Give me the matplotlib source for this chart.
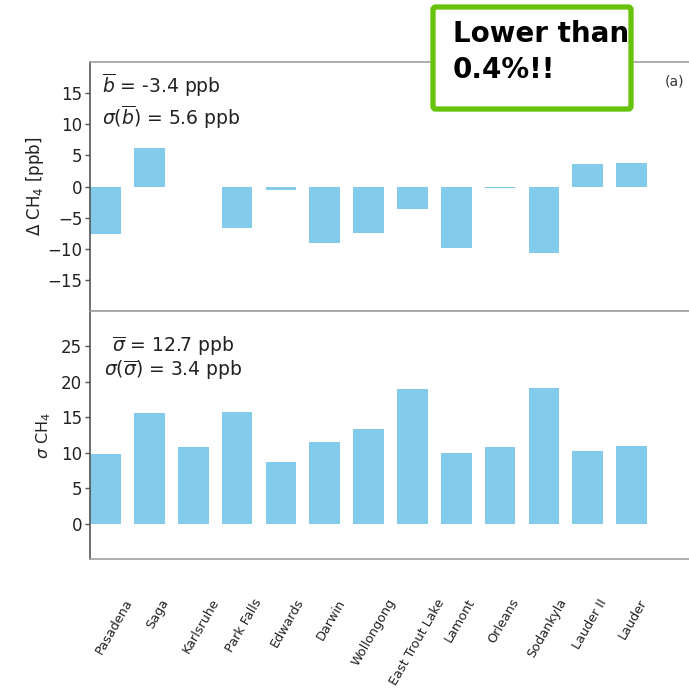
import matplotlib
matplotlib.use("Agg")
import matplotlib.pyplot as plt
from matplotlib.patches import FancyBboxPatch
import numpy as np

# TCCON sites and CH4 comparison statistics
sites = ["Pasadena", "Saga", "Karlsruhe", "Park Falls", "Edwards", "Darwin",
         "Wollongong", "East Trout Lake", "Lamont", "Orleans", "Sodankyla",
         "Lauder II", "Lauder"]
bias = [-7.7, 6.15, 0.0, -6.6, -0.5, -9.1, -7.5, -3.6, -9.9, -0.2, -10.7, 3.65, 3.85]
scatter = [9.85, 15.6, 10.8, 15.8, 8.7, 11.45, 13.3, 19.0, 10.0, 10.85, 19.15, 10.3, 10.9]

bias_ticks = [-15, -10, -5, 0, 5, 10, 15]
scatter_ticks = [0, 5, 10, 15, 20, 25]

bar_color = "#82cbeb"
spine_gray = "#a0a0a0"
left_gray = "#555555"
text_color = "#222222"

fig = plt.figure(figsize=(6.89, 6.91), dpi=100)
left = 90 / 689
ax1 = fig.add_axes([left, 1 - 311 / 691, 1.0 - left, (311 - 62) / 691])
ax2 = fig.add_axes([left, 1 - 559 / 691, 1.0 - left, (559 - 311) / 691])

x = np.arange(len(sites))
width = 0.7
xlim = (-0.354, 13.31)

for ax in (ax1, ax2):
    ax.set_xlim(*xlim)
    for side in ("top", "bottom"):
        ax.spines[side].set_color(spine_gray)
        ax.spines[side].set_linewidth(1.2)
    ax.spines["right"].set_visible(False)
    ax.spines["left"].set_color(left_gray)
    ax.spines["left"].set_linewidth(1.2)
    ax.tick_params(axis="y", direction="out", length=3.5, width=1,
                   color=left_gray, labelsize=12, labelcolor=text_color, pad=2)
    ax.tick_params(axis="x", bottom=False, labelbottom=False)

# Panel (a): mean bias per site
ax1.bar(x, bias, width=width, color=bar_color)
ax1.set_ylim(-20, 20)
ax1.set_yticks(bias_ticks)
ax1.set_yticklabels([str(t).replace("-", "\u2212") for t in bias_ticks])
ax1.set_ylabel(r"$\Delta$ CH$_4$ [ppb]", fontsize=12, color=text_color, labelpad=1)
ax1.text(0.02, 0.905, r"$\overline{b}$ = -3.4 ppb", transform=ax1.transAxes,
         fontsize=13.5, color=text_color, va="center", ha="left")
ax1.text(0.02, 0.78, r"$\sigma(\overline{b})$ = 5.6 ppb", transform=ax1.transAxes,
         fontsize=13.5, color=text_color, va="center", ha="left")
ax1.text(0.975, 0.92, "(a)", transform=ax1.transAxes, fontsize=10,
         color="#333333", va="center", ha="center")

# Panel (b): station-to-station scatter
ax2.bar(x, scatter, width=width, color=bar_color)
ax2.set_ylim(-5, 30)
ax2.set_yticks(scatter_ticks)
ax2.set_ylabel(r"$\sigma$ CH$_4$", fontsize=11.5, color=text_color, labelpad=6)
ax2.text(0.037, 0.86, r"$\overline{\sigma}$ = 12.7 ppb", transform=ax2.transAxes,
         fontsize=13.5, color=text_color, va="center", ha="left")
ax2.text(0.024, 0.76, r"$\sigma(\overline{\sigma})$ = 3.4 ppb", transform=ax2.transAxes,
         fontsize=13.5, color=text_color, va="center", ha="left")

# Site names on a slightly rescaled secondary axis below panel (b)
bar_step, label_step, label_offset = 43.83, 43.2, 9.0
secax = ax2.secondary_xaxis(
    "bottom",
    functions=(lambda v: (bar_step * v - label_offset) / label_step,
               lambda v: (label_step * v + label_offset) / bar_step))
secax.spines["bottom"].set_visible(False)
secax.set_xticks(x)
secax.set_xticklabels(sites, rotation=60, ha="center",
                      fontsize=9.2, color=text_color)
secax.tick_params(axis="x", length=0, pad=27)

# Highlight box above panel (a)
W, H = 689, 691
bx0, by0, bx1, by1 = 433, 7, 631, 109
box = FancyBboxPatch((bx0 / W, 1 - by1 / H), (bx1 - bx0) / W, (by1 - by0) / H,
                     boxstyle="round,pad=0,rounding_size=0.004",
                     transform=fig.transFigure, facecolor="white",
                     edgecolor="#66c20a", linewidth=3.8, zorder=10)
fig.patches.append(box)
fig.text(453 / W, 1 - 34 / H, "Lower than", fontsize=20, fontweight="bold",
         color="black", va="center", ha="left", zorder=11)
fig.text(453 / W, 1 - 70 / H, "0.4%!!", fontsize=20, fontweight="bold",
         color="black", va="center", ha="left", zorder=11)

fig.savefig("out.png", dpi=100, facecolor="white")
